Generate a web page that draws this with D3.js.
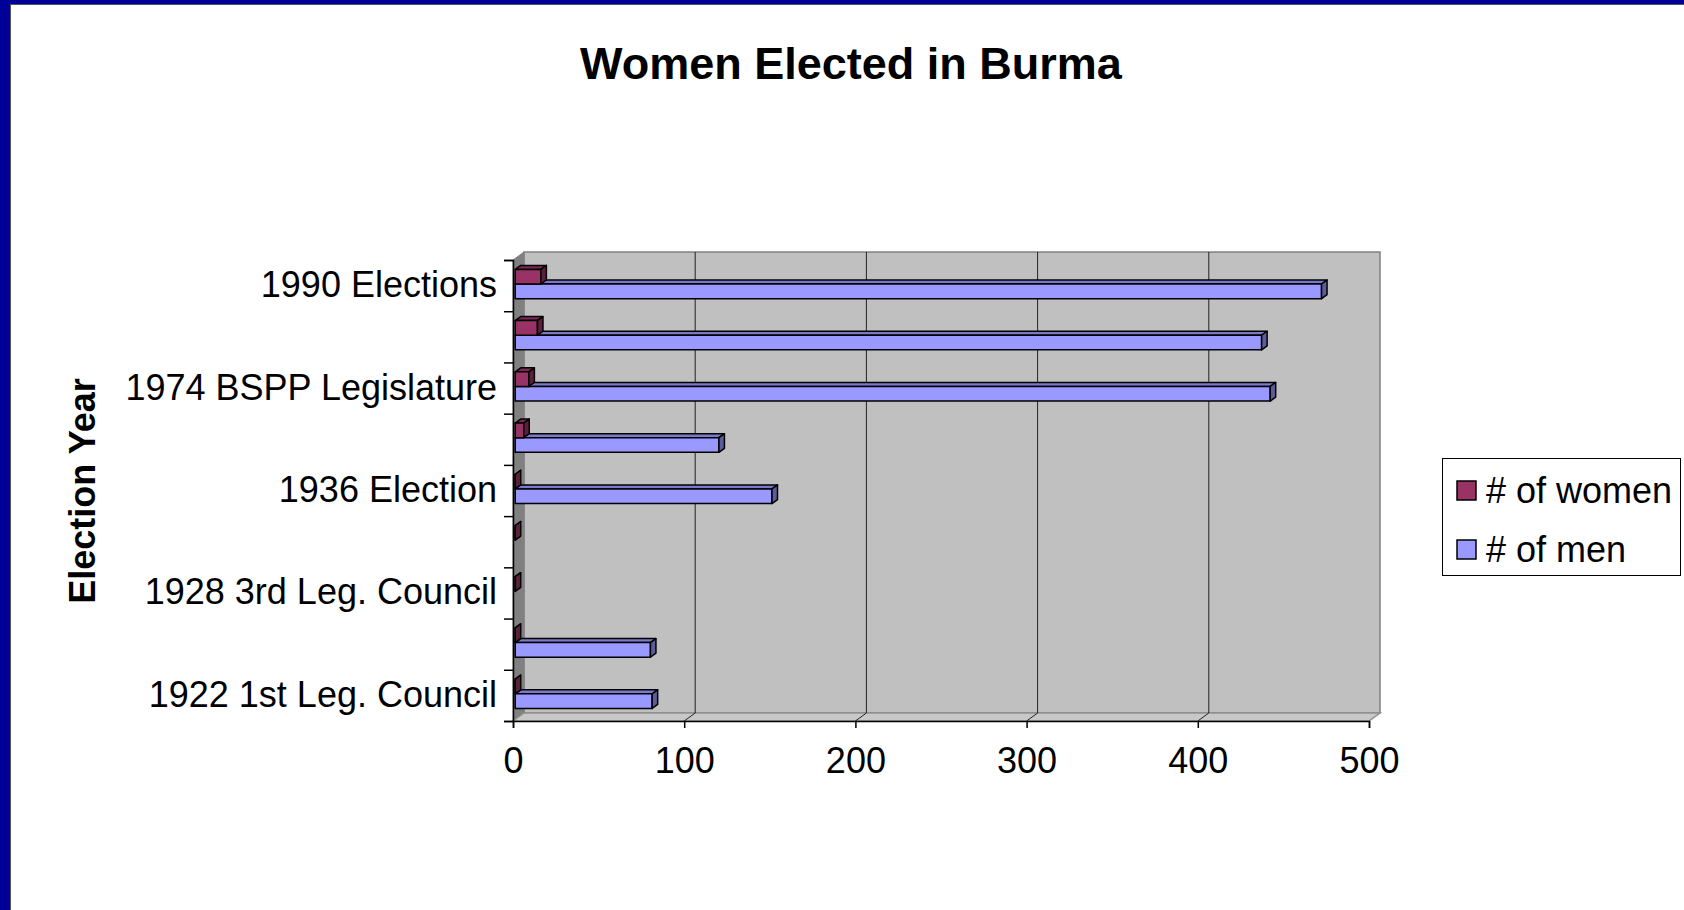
<!DOCTYPE html>
<html>
<head>
<meta charset="utf-8">
<script src="https://cdn.jsdelivr.net/npm/d3@7"></script>
<style>
  html, body { margin: 0; padding: 0; background: #fff; }
  svg { display: block; font-family: "Liberation Sans", Arial, sans-serif; }
</style>
</head>
<body>
<svg id="chart" width="1684" height="910"></svg>
<script>
// Election categories, oldest first (drawn bottom to top)
const categories = [
  "1922 1st Leg. Council",
  "1925 2nd Leg. Council",
  "1928 3rd Leg. Council",
  "1932 4th Leg. Council",
  "1936 Election",
  "1951 Parliament",
  "1974 BSPP Legislature",
  "1978 BSPP Legislature",
  "1990 Elections"
];
// Seats won (null = no figure recorded)
const women = [0, 0, 0, 0, 0, 5, 8, 13, 15];
const men = [80, 79, null, null, 150, 119, 441, 436, 471];
const seriesNames = ["# of women", "# of men"];
const seriesColors = ["#993366", "#9999FF"];
const topColors = ["#7a2952", "#7a7acc"];
const endColors = ["#5c1f3d", "#5c5c99"];
const xTicks = [0, 100, 200, 300, 400, 500];

const svg = d3.select("#chart");

// Slide frame
svg.append("rect").attr("x", 0).attr("y", 0).attr("width", 1684).attr("height", 910).attr("fill", "#fff");
svg.append("rect").attr("x", 0).attr("y", 0).attr("width", 1684).attr("height", 4).attr("fill", "#000099");
svg.append("rect").attr("x", 0).attr("y", 4).attr("width", 1684).attr("height", 1).attr("fill", "#555");
svg.append("rect").attr("x", 0).attr("y", 0).attr("width", 10).attr("height", 910).attr("fill", "#000099");
svg.append("rect").attr("x", 10).attr("y", 4).attr("width", 1).attr("height", 906).attr("fill", "#555");

// Title
svg.append("text")
  .attr("x", 851).attr("y", 79)
  .attr("text-anchor", "middle")
  .attr("font-size", 45).attr("font-weight", "bold")
  .text("Women Elected in Burma");

// Front-plane scales and 3D depth vector
const x = d3.scaleLinear().domain([0, 500]).range([513, 1369]);
const y = d3.scaleBand().domain(categories).range([721, 260]);
const yEdge = d3.scaleLinear().domain([0, categories.length]).range([721, 260]);
const depth = { dx: 11, dy: -8 };
const bw = y.bandwidth();
const sub = d3.scaleBand().domain(seriesNames).range([0, bw]).paddingInner(0).paddingOuter(0.75);
const t0 = 0.2, t1 = 0.7; // bar front and back, as fractions of the depth

const yTop = yEdge.range()[1], yBot = yEdge.range()[0];
const xL = x.range()[0], xR = x.range()[1];
const poly = pts => pts.map(p => p.join(",")).join(" ");

// Walls and floor
const walls = svg.append("g");
walls.append("polygon")
  .attr("points", poly([[xL + depth.dx, yTop + depth.dy], [xR + depth.dx, yTop + depth.dy],
                        [xR + depth.dx, yBot + depth.dy], [xL + depth.dx, yBot + depth.dy]]))
  .attr("fill", "#c0c0c0").attr("stroke", "#808080").attr("stroke-width", 1.5);
walls.append("polygon")
  .attr("points", poly([[xL, yTop], [xL + depth.dx, yTop + depth.dy],
                        [xL + depth.dx, yBot + depth.dy], [xL, yBot]]))
  .attr("fill", "#808080").attr("stroke", "#808080");
walls.append("polygon")
  .attr("points", poly([[xL, yBot], [xL + depth.dx, yBot + depth.dy],
                        [xR + depth.dx, yBot + depth.dy], [xR, yBot]]))
  .attr("fill", "#c8c8c8").attr("stroke", "#909090").attr("stroke-width", 1.5);

// Gridlines on back wall and across the floor
const grid = svg.append("g").attr("stroke", "#222").attr("stroke-width", 1).attr("fill", "none");
xTicks.filter(v => v > 0 && v < 500).forEach(v => {
  grid.append("polyline")
    .attr("points", poly([[x(v) + depth.dx, yTop + depth.dy], [x(v) + depth.dx, yBot + depth.dy], [x(v), yBot]]));
});

// Bars
function drawBar(g, cat, seriesIdx, value) {
  if (value === null) return;
  const ddx = (t1 - t0) * depth.dx, ddy = (t1 - t0) * depth.dy;
  const x0 = x(0) + t0 * depth.dx, x1 = x(value) + t0 * depth.dx;
  const y0 = y(cat) + sub(seriesNames[seriesIdx]) + t0 * depth.dy;
  const y1 = y0 + sub.bandwidth();
  const s = { stroke: "#000", "stroke-width": 1.5, "stroke-linejoin": "round" };
  const apply = (sel) => { Object.entries(s).forEach(([k, v]) => sel.attr(k, v)); return sel; };
  apply(g.append("polygon")
    .attr("points", poly([[x0, y0], [x1, y0], [x1 + ddx, y0 + ddy], [x0 + ddx, y0 + ddy]]))
    .attr("fill", topColors[seriesIdx]));
  apply(g.append("polygon")
    .attr("points", poly([[x0, y0], [x1, y0], [x1, y1], [x0, y1]]))
    .attr("fill", seriesColors[seriesIdx]));
  apply(g.append("polygon")
    .attr("points", poly([[x1, y0], [x1 + ddx, y0 + ddy], [x1 + ddx, y1 + ddy], [x1, y1]]))
    .attr("fill", endColors[seriesIdx]));
}
const bars = svg.append("g");
categories.forEach((c, i) => {
  drawBar(bars, c, 1, men[i]);
  drawBar(bars, c, 0, women[i]);
});

// Category axis: tick marks at band edges, labels on every other band
svg.append("g")
  .attr("transform", `translate(${xL},0)`)
  .call(d3.axisLeft(yEdge).ticks(categories.length).tickSize(9).tickFormat(""))
  .call(g => g.selectAll("line, path").attr("stroke", "#000").attr("stroke-width", 1.5));
svg.append("g")
  .attr("transform", `translate(${xL},0)`)
  .call(d3.axisLeft(y).tickSize(0).tickPadding(16)
    .tickFormat((d, i) => (i % 2 === 0 ? d : "")))
  .call(g => g.select(".domain").remove())
  .call(g => g.selectAll("text").attr("font-size", 36).attr("fill", "#000")
    .attr("font-family", "Liberation Sans, Arial, sans-serif"));

// Value axis
svg.append("g")
  .attr("transform", `translate(0,${yBot})`)
  .call(d3.axisBottom(x).tickValues(xTicks).tickSize(7).tickPadding(19).tickFormat(d3.format("d")))
  .call(g => g.selectAll("line, path").attr("stroke", "#000").attr("stroke-width", 1.5))
  .call(g => g.selectAll("text").attr("font-size", 36).attr("fill", "#000")
    .attr("font-family", "Liberation Sans, Arial, sans-serif"));

// Axis title
svg.append("text")
  .attr("transform", "translate(95,491) rotate(-90)")
  .attr("text-anchor", "middle")
  .attr("font-size", 36).attr("font-weight", "bold")
  .text("Election Year");

// Legend
const legend = svg.append("g");
legend.append("rect")
  .attr("x", 1442.5).attr("y", 458.5).attr("width", 238).attr("height", 117)
  .attr("fill", "#fff").attr("stroke", "#000").attr("stroke-width", 1);
seriesNames.forEach((name, i) => {
  const cy = 490.5 + i * 59;
  legend.append("rect")
    .attr("x", 1457).attr("y", cy - 9.5).attr("width", 19).attr("height", 19)
    .attr("fill", seriesColors[i]).attr("stroke", "#000").attr("stroke-width", 1.5);
  legend.append("text")
    .attr("x", 1486).attr("y", cy + 12)
    .attr("font-size", 36)
    .text(name);
});
</script>
</body>
</html>
